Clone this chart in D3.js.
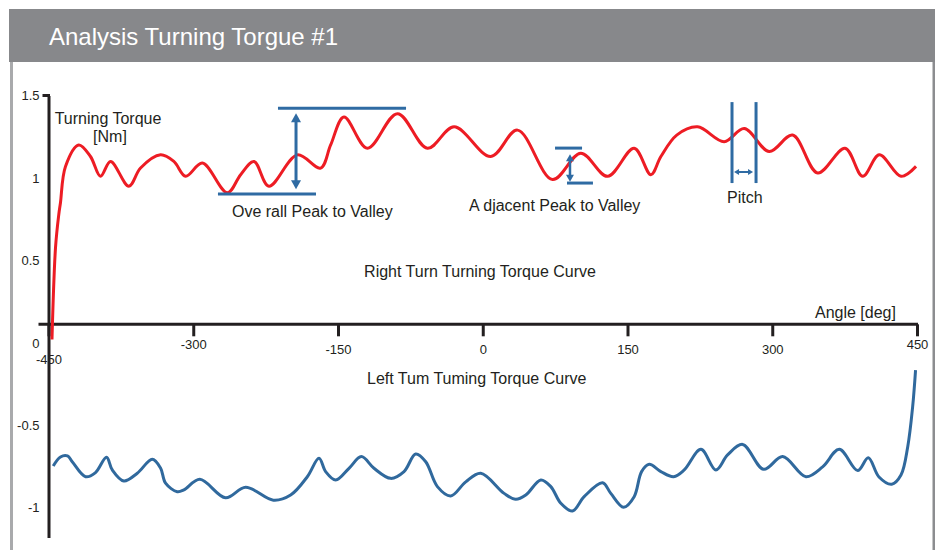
<!DOCTYPE html>
<html>
<head>
<meta charset="utf-8">
<script src="https://cdn.jsdelivr.net/npm/d3@7"></script>
<style>
  html, body { margin: 0; padding: 0; background: #ffffff; }
  svg { display: block; font-family: "Liberation Sans", Arial, sans-serif; }
</style>
</head>
<body>
<svg id="chart" width="938" height="550"></svg>
<script>
// ---------------- DATA ----------------
const chartTitle = "Analysis Turning Torgue #1";

const xTickValues = [-450, -300, -150, 0, 150, 300, 450];
const xTickLabels = ["-450", "-300", "-150", "0", "150", "300", "450"];
const yTickValues = [1.5, 1, 0.5, 0, -0.5, -1];
const yTickLabels = ["1.5", "1", "0.5", "0", "-0.5", "-1"];

// Right turn turning torque curve (angle in deg, torque in Nm)
const rightAngle = [-446.4, -442.7, -439.3, -437.6, -432.4, -418.6, -406.5, -396.1, -385.7, -366.7,
  -354.6, -333.9, -320.1, -307.9, -290.6, -264.7, -250.9, -237.1, -221.6, -192.1,
  -168.0, -157.6, -143.8, -119.5, -88.4, -57.3, -29.7, 8.3, 36.0, 72.3,
  101.6, 129.3, 156.9, 174.2, 184.6, 201.0, 222.6, 250.2, 271.0, 296.9,
  321.1, 347.1, 375.4, 393.7, 410.9, 433.4, 449.0];
const rightTorque = [0.02, 0.58, 0.78, 0.85, 1.07, 1.20, 1.13, 1.01, 1.10, 0.95,
  1.06, 1.14, 1.10, 1.01, 1.09, 0.91, 1.02, 1.10, 0.95, 1.14,
  1.06, 1.20, 1.37, 1.18, 1.39, 1.18, 1.31, 1.13, 1.29, 0.99,
  1.15, 1.01, 1.18, 1.02, 1.13, 1.26, 1.31, 1.22, 1.30, 1.16,
  1.26, 1.03, 1.18, 1.01, 1.14, 1.01, 1.07];

// Left turn turning torque curve
const leftAngle = [-445.1, -437.6, -430.3, -425.4, -411.6, -401.3, -389.9, -383.9, -371.9, -358.0,
  -342.5, -333.9, -328.7, -316.6, -309.7, -293.1, -266.5, -245.7, -217.0, -199.1,
  -181.8, -169.7, -162.8, -152.4, -138.6, -125.8, -112.7, -95.4, -81.6, -69.5,
  -59.1, -47.0, -33.2, -17.6, -2.1, 22.1, 34.2, 44.6, 60.2, 70.5,
  80.9, 93.0, 105.1, 124.1, 132.7, 145.9, 156.9, 164.6, 172.5, 184.6,
  197.8, 208.8, 226.1, 241.6, 253.7, 269.3, 291.1, 310.8, 334.9, 352.2,
  369.5, 388.5, 399.5, 410.6, 423.8, 433.4, 440.4, 445.5, 448.5];
const leftTorque = [-0.747, -0.692, -0.686, -0.721, -0.812, -0.787, -0.694, -0.771, -0.838, -0.791,
  -0.706, -0.759, -0.851, -0.903, -0.892, -0.828, -0.940, -0.876, -0.954, -0.923,
  -0.812, -0.700, -0.781, -0.832, -0.761, -0.690, -0.761, -0.822, -0.781, -0.674,
  -0.721, -0.872, -0.929, -0.843, -0.791, -0.913, -0.949, -0.923, -0.832, -0.872,
  -0.973, -1.020, -0.933, -0.849, -0.913, -0.997, -0.933, -0.781, -0.737, -0.781,
  -0.812, -0.771, -0.646, -0.771, -0.680, -0.616, -0.767, -0.690, -0.812, -0.752,
  -0.646, -0.775, -0.697, -0.814, -0.858, -0.802, -0.630, -0.387, -0.165];

// Annotation markers in data units
const overallTopLine = [-212.2, -79.5, 1.422];     // x1, x2, value
const overallBottomLine = [-274.4, -172.8, 0.902];
const overallArrow = [-193.5, 1.392, 0.931];        // angle, from, to
const adjacentTopLine = [74.9, 102.9, 1.181];
const adjacentBottomLine = [87.3, 114.2, 0.969];
const adjacentArrow = [90.4, 1.143, 0.977];
const pitchLines = [258.3, 283.2];
const pitchLineSpan = [1.460, 0.969];
const pitchArrow = [260.4, 280.1, 1.036];

// ---------------- LAYOUT ----------------
const svg = d3.select("#chart");
const W = 938, H = 550;
const axisLineY = 324.3;
const textColor = "#231f20";
const red = "#ed1c24";
const blue = "#30699d";
const annBlue = "#2f6ba3";

const x = d3.scaleLinear().domain([-450, 450]).range([48.5, 917]);
const y = d3.scaleLinear().domain([-1.18, 1.5]).range([537.4, 95.5]);

svg.append("rect").attr("width", W).attr("height", H).attr("fill", "#ffffff");

// Frame
svg.append("rect").attr("x", 9).attr("y", 9).attr("width", 926).attr("height", 53).attr("fill", "#87888b");
svg.append("rect").attr("x", 10).attr("y", 62).attr("width", 3).attr("height", H - 62).attr("fill", "#a9aaac");
svg.append("rect").attr("x", 932.5).attr("y", 62).attr("width", 2.5).attr("height", H - 62).attr("fill", "#8c8d90");
svg.append("text").attr("x", 49).attr("y", 44.5).attr("fill", "#ffffff")
  .attr("font-size", "24px").text(chartTitle);

// Y axis
const yAxis = svg.append("g").attr("transform", `translate(${x(-450)},0)`)
  .call(d3.axisLeft(y).tickValues(yTickValues).tickSize(0).tickSizeOuter(0).tickPadding(9)
    .tickFormat((d, i) => yTickLabels[i]));
yAxis.select(".domain").attr("stroke", textColor).attr("stroke-width", 3);
yAxis.selectAll("text").attr("font-size", "13px").attr("fill", textColor)
  .attr("font-family", "Liberation Sans, Arial, sans-serif");
// small cap tick at top
svg.append("line").attr("x1", x(-450) - 6).attr("x2", x(-450) + 1.5)
  .attr("y1", y(1.5)).attr("y2", y(1.5)).attr("stroke", textColor).attr("stroke-width", 3);

// X axis
const labelOffsets = [40, 25, 30, 30, 30, 30, 25];
const xAxis = svg.append("g").attr("transform", `translate(0,${axisLineY})`)
  .call(d3.axisBottom(x).tickValues(xTickValues).tickSize(12).tickSizeOuter(0)
    .tickFormat((d, i) => xTickLabels[i]));
xAxis.select(".domain").remove();
xAxis.selectAll(".tick line").attr("stroke", textColor).attr("stroke-width", 3);
xAxis.selectAll("text").attr("font-size", "13px").attr("fill", textColor)
  .attr("font-family", "Liberation Sans, Arial, sans-serif")
  .attr("dy", null).attr("y", (d, i) => labelOffsets[i]);
svg.append("line").attr("x1", x(-450) - 10).attr("x2", x(450) + 1)
  .attr("y1", axisLineY).attr("y2", axisLineY).attr("stroke", textColor).attr("stroke-width", 3);

// Curves
const line = d3.line().x(d => x(d[0])).y(d => y(d[1])).curve(d3.curveCatmullRom.alpha(0.5));
svg.append("path").datum(d3.zip(rightAngle, rightTorque)).attr("d", line)
  .attr("fill", "none").attr("stroke", red).attr("stroke-width", 3).attr("stroke-linejoin", "round");
svg.append("path").datum(d3.zip(leftAngle, leftTorque)).attr("d", line)
  .attr("fill", "none").attr("stroke", blue).attr("stroke-width", 3).attr("stroke-linejoin", "round");

// Annotation helpers
function hLine(spec) {
  svg.append("line").attr("x1", x(spec[0])).attr("x2", x(spec[1]))
    .attr("y1", y(spec[2])).attr("y2", y(spec[2])).attr("stroke", annBlue).attr("stroke-width", 3);
}
function doubleArrow(x1, y1, x2, y2, len, half, sw) {
  const dx = x2 - x1, dy = y2 - y1, L = Math.hypot(dx, dy);
  const ux = dx / L, uy = dy / L, px = -uy, py = ux;
  svg.append("line").attr("x1", x1 + ux * len * 0.8).attr("y1", y1 + uy * len * 0.8)
    .attr("x2", x2 - ux * len * 0.8).attr("y2", y2 - uy * len * 0.8)
    .attr("stroke", annBlue).attr("stroke-width", sw);
  const head = (tx, ty, sx) => {
    const bx = tx - sx * ux * len, by = ty - sx * uy * len;
    svg.append("path").attr("d",
      `M${tx},${ty}L${bx + px * half},${by + py * half}L${bx - px * half},${by - py * half}Z`)
      .attr("fill", annBlue);
  };
  head(x2, y2, 1);
  head(x1, y1, -1);
}

hLine(overallTopLine);
hLine(overallBottomLine);
doubleArrow(x(overallArrow[0]), y(overallArrow[1]), x(overallArrow[0]), y(overallArrow[2]), 9, 5, 3);
hLine(adjacentTopLine);
hLine(adjacentBottomLine);
doubleArrow(x(adjacentArrow[0]), y(adjacentArrow[1]), x(adjacentArrow[0]), y(adjacentArrow[2]), 7, 4, 2.5);
pitchLines.forEach(a => {
  svg.append("line").attr("x1", x(a)).attr("x2", x(a))
    .attr("y1", y(pitchLineSpan[0])).attr("y2", y(pitchLineSpan[1]))
    .attr("stroke", annBlue).attr("stroke-width", 3);
});
doubleArrow(x(pitchArrow[0]), y(pitchArrow[2]), x(pitchArrow[1]), y(pitchArrow[2]), 5, 3, 2);

// Labels
const label = (txt, px, py, anchor) => svg.append("text").attr("x", px).attr("y", py)
  .attr("text-anchor", anchor || "start").attr("font-size", "16px").attr("fill", textColor).text(txt);
label("Turning Torque", 108, 124, "middle");
label("[Nm]", 110, 142, "middle");
label("Ove rall Peak to Valley", 232, 217);
label("A djacent Peak to Valley", 469, 210.5);
label("Pitch", 727, 203);
label("Right Turn Turning Torque Curve", 480, 277, "middle");
label("Angle [deg]", 815, 318);
label("Left Tum Tuming Torque Curve", 367, 383.5);
</script>
</body>
</html>
